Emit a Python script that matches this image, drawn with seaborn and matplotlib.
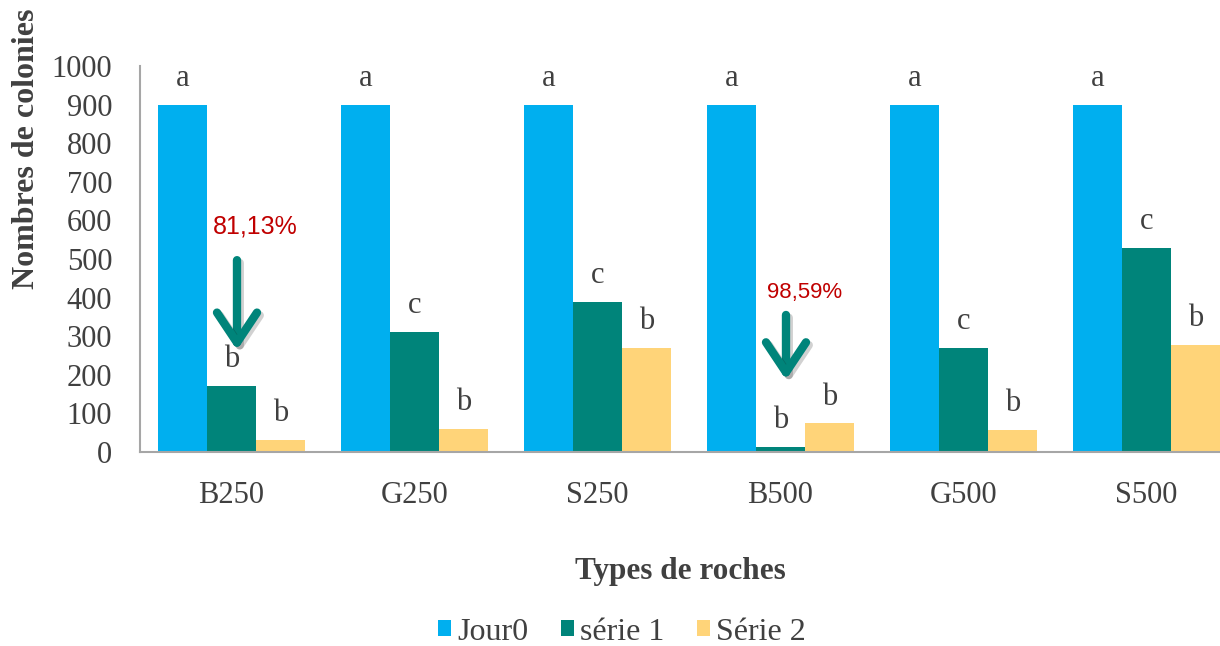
import matplotlib
matplotlib.use("Agg")
import matplotlib.pyplot as plt
import matplotlib.patheffects as pe
from matplotlib.patches import Patch
import pandas as pd
import seaborn as sns

# Rock types and colony counts per series
categories = ["B250", "G250", "S250", "B500", "G500", "S500"]
series_names = ["Jour0", "série 1", "Série 2"]
jour0 = [900, 900, 900, 900, 900, 900]
serie1 = [170, 312, 389, 13, 269, 528]
serie2 = [32, 59, 269, 74, 57, 277]
letters_jour0 = ["a", "a", "a", "a", "a", "a"]
letters_serie1 = ["b", "c", "c", "b", "c", "c"]
letters_serie2 = ["b", "b", "b", "b", "b", "b"]
# Reduction annotations: (category, label, arrow start, arrow end, label height)
reductions = [("B250", "81,13%", 497, 264, 583),
              ("B500", "98,59%", 355, 187, 414)]
pct_sizes = [18, 16]

colors = ["#00AFEF", "#00847A", "#FFD479"]
text_gray = "#404040"

df = pd.DataFrame({
    "roche": categories * 3,
    "serie": [series_names[0]] * 6 + [series_names[1]] * 6 + [series_names[2]] * 6,
    "valeur": jour0 + serie1 + serie2,
})

sns.set_theme(style="white")
plt.rcParams["font.family"] = ["Liberation Serif", "DejaVu Serif"]

fig = plt.figure(figsize=(12.2, 6.46), dpi=100)
ax = fig.add_axes([140 / 1220, 1 - 452 / 646, 1098 / 1220, 386 / 646])

sns.barplot(data=df, x="roche", y="valeur", hue="serie", order=categories,
            hue_order=series_names, palette=colors, saturation=1, width=0.8,
            errorbar=None, legend=False, ax=ax, edgecolor="none")

ax.set_ylim(0, 1000)
ax.set_xlim(-0.5, 5.5)
ax.set_yticks(range(0, 1001, 100))
ax.tick_params(axis="both", length=0, labelsize=22, labelcolor=text_gray)
ax.tick_params(axis="y", pad=20)
ax.tick_params(axis="x", pad=21)
for s in ["top", "right"]:
    ax.spines[s].set_visible(False)
for s in ["left", "bottom"]:
    ax.spines[s].set_color("#A6A6A6")
    ax.spines[s].set_linewidth(1.5)
ax.set_xlabel("")
ax.set_ylabel("")

# Significance letters above each bar
letter_sets = [letters_jour0, letters_serie1, letters_serie2]
for container, letters in zip(ax.containers, letter_sets):
    for bar, letter in zip(container, letters):
        ax.annotate(letter, (bar.get_x() + bar.get_width() / 2, bar.get_height()),
                    xytext=(0, 19), textcoords="offset points", ha="center",
                    va="center", fontsize=22, color=text_gray)

# Reduction arrows with percentages
for k, (cat, label, y0, y1, ylab) in enumerate(reductions):
    i = categories.index(cat)
    xc = i + 0.03
    ax.annotate("", xy=(xc, y1), xytext=(xc, y0),
                arrowprops=dict(arrowstyle="->, head_length=0.72, head_width=0.48",
                                mutation_scale=30, lw=6.0, color="#00847A",
                                capstyle="round", joinstyle="round",
                                shrinkA=0, shrinkB=0,
                                path_effects=[pe.SimpleLineShadow(offset=(2, -2), alpha=0.2),
                                              pe.Normal()]))
    ax.text(i + 0.13, ylab, label, ha="center", va="center",
            fontsize=pct_sizes[k], color="#C00000",
            family=["Liberation Sans", "DejaVu Sans"])

fig.text(27 / 1220, 1 - 149 / 646, "Nombres de colonies", rotation=90,
         ha="center", va="center", fontsize=23, fontweight="bold", color=text_gray)
fig.text(680 / 1220, 1 - 572 / 646, "Types de roches", ha="center", va="center",
         fontsize=22.5, fontweight="bold", color=text_gray)

handles = [Patch(facecolor=c, edgecolor="none") for c in colors]
leg = fig.legend(handles, series_names, loc="center",
                 bbox_to_anchor=(622 / 1220, 1 - 632 / 646), ncol=3, frameon=False,
                 fontsize=23, handlelength=0.42, handleheight=0.42,
                 handletextpad=0.2, columnspacing=1.0)
for t in leg.get_texts():
    t.set_color(text_gray)

fig.savefig("out.png", dpi=100)
